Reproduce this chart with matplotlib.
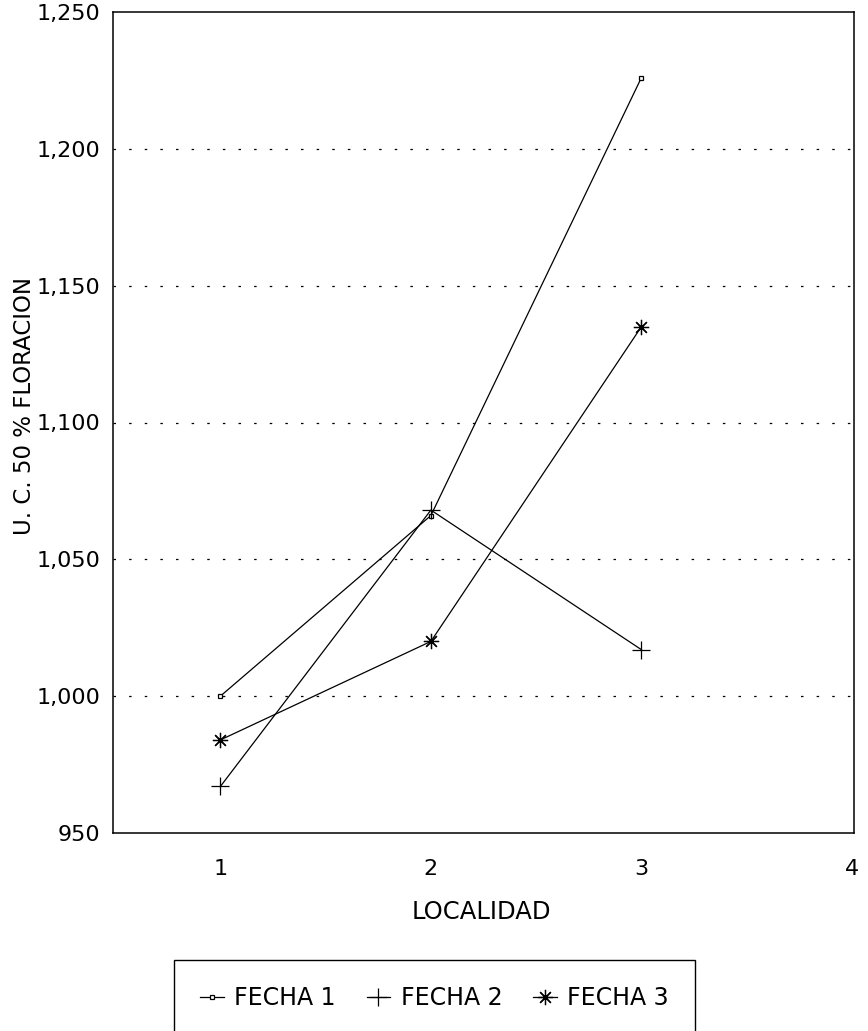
import matplotlib
matplotlib.use("Agg")
import matplotlib.pyplot as plt
from matplotlib.patches import Rectangle
from matplotlib.ticker import FuncFormatter

# ---- data ----
localidad = [1, 2, 3]
fecha1 = [1000, 1066, 1226]
fecha2 = [967, 1068, 1017]
fecha3 = [984, 1020, 1135]
series_labels = ["FECHA 1", "FECHA 2", "FECHA 3"]
y_ticks = [950, 1000, 1050, 1100, 1150, 1200, 1250]
x_ticks = [1, 2, 3, 4]
grid_values = [1000, 1050, 1100, 1150, 1200]

plt.rcParams['font.family'] = ['DejaVu Sans']

W, H = 868, 1031
fig = plt.figure(figsize=(W / 100, H / 100), dpi=100)
ax = fig.add_axes([113 / W, 1 - 833 / H, (854 - 113) / W, (833 - 12) / H])

for v in grid_values:
    ax.axhline(v, color='black', lw=0.9, dashes=(2, 10.5), zorder=1)

asterisk = (8, 2, 0)
l1, = ax.plot(localidad, fecha1, color='black', lw=0.9, marker='s', ms=3.5,
              mfc='white', mec='black', mew=0.9, label=series_labels[0], zorder=3)
l2, = ax.plot(localidad, fecha2, color='black', lw=0.9, marker='+', ms=13,
              mew=0.9, label=series_labels[1], zorder=3)
l3, = ax.plot(localidad, fecha3, color='black', lw=0.9, marker=asterisk, ms=11,
              mew=0.9, label=series_labels[2], zorder=3)

ax.set_xlim(0.49, 4.01)
ax.set_ylim(950, 1250)
ax.set_xticks(x_ticks)
ax.set_yticks(y_ticks)
ax.yaxis.set_major_formatter(FuncFormatter(lambda v, p: f"{int(v):,}"))
ax.tick_params(axis='both', length=0, labelsize=16)
ax.tick_params(axis='y', pad=9)
ax.tick_params(axis='x', pad=19)

for s in ax.spines.values():
    s.set_linewidth(1.1)
    s.set_color('black')

ax.set_ylabel("U. C. 50 % FLORACION", fontsize=16.5)
ax.yaxis.set_label_coords(-0.119, 0.52)
ax.yaxis.label.set_va('center')
ax.set_xlabel("LOCALIDAD", fontsize=17.5)
ax.xaxis.set_label_coords(0.497, -0.096)
ax.xaxis.label.set_va('center')

# legend box (extends below the page edge as in the scan)
fig.patches.append(Rectangle((174 / W, 1 - 1045 / H), (695 - 174) / W, (1045 - 960) / H,
                             transform=fig.transFigure, fill=False, ec='black',
                             lw=1.0, clip_on=False))
fig.legend(handles=[l1, l2, l3], loc='center', bbox_to_anchor=(434.5 / W, 1 - 998 / H),
           ncol=3, frameon=False, fontsize=17, handlelength=1.0,
           handletextpad=0.45, columnspacing=1.3, numpoints=1)

fig.savefig("out.png", dpi=100)
